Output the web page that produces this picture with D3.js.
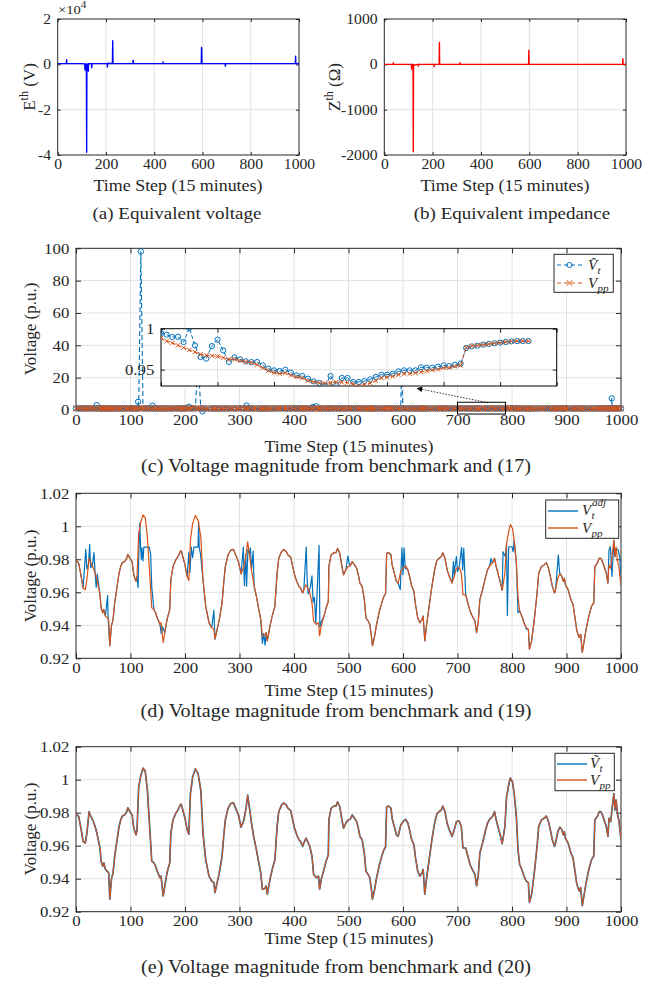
<!DOCTYPE html>
<html>
<head>
<meta charset="utf-8">
<script src="https://cdn.jsdelivr.net/npm/d3@7"></script>
<style>
  body { margin: 0; background: #fff; }
  svg { display: block; }
  text { font-family: "Liberation Serif", "Times New Roman", serif; fill: #262626; }
</style>
</head>
<body>
<script>
// ---- data ----
// (a) equivalent voltage, x10^4 V
const eThSteps  = [0, 36, 37, 38, 100, 112, 113, 114, 118, 119, 120, 121, 122, 126, 127, 128, 140, 141, 142, 200,
                   205, 206, 207, 226, 227, 228, 229, 230, 312, 313, 314, 436, 437, 438, 595, 596, 597, 598, 599, 694,
                   695, 696, 985, 986, 987, 1000];
const eThValues = [0.03, 0.03, 0.2, 0.03, 0.03, 0.02, -0.25, 0.03, -0.1, -0.4, -3.88, 0.02, -0.2, 0.03, -0.3, 0.03, 0.03, -0.15, 0.03, 0.03,
                   0.03, -0.12, 0.05, 0.03, 0.2, 1.04, 0.1, 0.03, 0.03, 0.18, 0.03, 0.03, 0.1, 0.03, 0.03, 0.75, 0.6, 0.03, 0.03, 0.03,
                   -0.08, 0.03, 0.03, 0.36, 0.03, 0.03];
// (b) equivalent impedance, ohm
const zThSteps  = [0, 36, 37, 38, 112, 113, 114, 118, 119, 120, 121, 122, 140, 141, 142, 205, 206, 207, 226, 227,
                   228, 229, 312, 313, 314, 597, 598, 599, 600, 986, 987, 988, 1000];
const zThValues = [0, 0, 30, 0, 0, -110, 0, 0, -60, -1930, 0, -20, 0, -40, 0, 0, -50, 0, 0, 20,
                   485, 0, 0, 35, 0, 0, 312, 0, 0, 0, 123, 0, 0];

// V_pp (used in c, d, e); the benchmark in (e) overlaps it
const vppSteps = [
  0, 5, 9, 13, 17, 20, 24, 27, 32, 36,
  39, 44, 46, 49, 51, 54, 57, 60, 62, 65,
  68, 71, 75, 79, 82, 85, 89, 93, 95, 99,
  103, 106, 110, 112, 115, 119, 123, 127, 131, 134,
  139, 143, 146, 149, 154, 156, 160, 163, 167, 172,
  174, 178, 183, 187, 191, 193, 196, 200, 204, 207,
  210, 214, 219, 224, 229, 233, 238, 244, 249, 253,
  255, 259, 263, 268, 271, 274, 279, 284, 289, 293,
  298, 303, 308, 312, 315, 318, 322, 326, 331, 336,
  339, 342, 346, 349, 351, 356, 360, 365, 369, 372,
  377, 381, 386, 389, 394, 397, 401, 405, 409, 412,
  416, 418, 422, 425, 429, 433, 436, 441, 445, 447,
  450, 455, 459, 463, 464, 468, 473, 477, 480, 484,
  488, 491, 495, 499, 503, 507, 511, 515, 518, 521,
  525, 529, 532, 536, 539, 542, 544, 548, 551, 556,
  561, 565, 568, 570, 574, 578, 580, 584, 588, 591,
  596, 600, 605, 609, 612, 616, 620, 623, 627, 631,
  635, 637, 640, 643, 648, 653, 658, 662, 666, 670,
  673, 677, 681, 685, 690, 694, 698, 703, 707, 710,
  715, 719, 723, 727, 732, 735, 738, 741, 746, 751,
  755, 759, 764, 768, 771, 775, 779, 782, 787, 790,
  795, 797, 801, 804, 808, 811, 814, 818, 822, 826,
  830, 832, 836, 841, 846, 849, 854, 859, 863, 867,
  871, 874, 878, 880, 884, 888, 891, 894, 896, 898,
  903, 908, 912, 916, 919, 923, 926, 929, 933, 936,
  941, 946, 950, 952, 957, 960, 963, 966, 969, 973,
  976, 978, 981, 984, 987, 989, 991, 994, 996, 1000];
const vppValues = [
  0.9796, 0.9776, 0.9706, 0.9626, 0.9616, 0.9676, 0.9806, 0.978, 0.9746, 0.9706,
  0.9666, 0.9586, 0.9506, 0.9476, 0.9496, 0.9456, 0.9446, 0.9436, 0.9276, 0.9396,
  0.9436, 0.9536, 0.9626, 0.9716, 0.9756, 0.978, 0.9786, 0.9806, 0.983, 0.9806,
  0.9786, 0.9706, 0.9666, 0.9696, 0.9956, 1.0026, 1.007, 1.0052, 0.9936, 0.9776,
  0.9506, 0.9496, 0.9476, 0.9446, 0.9406, 0.9416, 0.9296, 0.9356, 0.9436, 0.9496,
  0.9676, 0.9756, 0.9796, 0.9816, 0.9846, 0.9852, 0.9816, 0.9766, 0.9696, 0.967,
  0.9916, 1.0016, 1.0066, 1.0036, 0.9936, 0.9676, 0.9516, 0.9416, 0.9386, 0.9376,
  0.9316, 0.9376, 0.9436, 0.9536, 0.9656, 0.9756, 0.9826, 0.9856, 0.986, 0.9826,
  0.9786, 0.9712, 0.9756, 0.9826, 0.9906, 0.9836, 0.9736, 0.9656, 0.9576, 0.9486,
  0.9436, 0.9336, 0.934, 0.9356, 0.9306, 0.9396, 0.9456, 0.9516, 0.9716, 0.9806,
  0.9846, 0.986, 0.9846, 0.9826, 0.9812, 0.9766, 0.9706, 0.9666, 0.9636, 0.9626,
  0.9596, 0.9616, 0.9646, 0.9626, 0.9596, 0.9536, 0.9426, 0.9406, 0.9416, 0.9336,
  0.9396, 0.9456, 0.9506, 0.9546, 0.9756, 0.9826, 0.984, 0.984, 0.9866, 0.9836,
  0.9756, 0.9706, 0.9736, 0.9756, 0.976, 0.9786, 0.9766, 0.9746, 0.9706, 0.9656,
  0.9636, 0.9556, 0.9446, 0.9426, 0.9406, 0.9336, 0.9276, 0.9336, 0.9396, 0.9476,
  0.9536, 0.9576, 0.9592, 0.9836, 0.984, 0.9826, 0.9766, 0.9716, 0.9666, 0.9656,
  0.9726, 0.9746, 0.976, 0.9736, 0.9696, 0.9636, 0.9606, 0.9526, 0.9446, 0.9416,
  0.9436, 0.9456, 0.9306, 0.9396, 0.9516, 0.9636, 0.9736, 0.9792, 0.9806, 0.9816,
  0.984, 0.9806, 0.9736, 0.9696, 0.9656, 0.9696, 0.9746, 0.975, 0.9716, 0.9586,
  0.9586, 0.9536, 0.9486, 0.9456, 0.9426, 0.9356, 0.9416, 0.9556, 0.9616, 0.9686,
  0.9736, 0.976, 0.9776, 0.9806, 0.9756, 0.9706, 0.9656, 0.9612, 0.9716, 0.9896,
  0.9986, 1.001, 0.9986, 0.9916, 0.9776, 0.9576, 0.9486, 0.9456, 0.9416, 0.9386,
  0.9376, 0.9256, 0.9306, 0.9436, 0.9596, 0.9716, 0.9756, 0.9766, 0.978, 0.9746,
  0.9686, 0.9636, 0.9596, 0.9616, 0.9686, 0.9712, 0.97, 0.9666, 0.9686, 0.9646,
  0.9616, 0.9556, 0.9526, 0.9436, 0.9366, 0.9326, 0.9346, 0.9236, 0.9316, 0.9376,
  0.9456, 0.9516, 0.9536, 0.9756, 0.978, 0.9806, 0.9806, 0.9786, 0.9756, 0.9716,
  0.9656, 0.9766, 0.9746, 0.9836, 0.9916, 0.9816, 0.9876, 0.978, 0.9756, 0.964];

// (c) where the estimate V^_t leaves V_pp
const hatSpikeSteps  = [38, 114, 119, 140.5, 207, 224, 232, 313, 435, 441, 597, 983];
const hatSpikeValues = [3.0, 5.1, 98, 2.7, 2.0, 30, -0.8, 2.7, 1.9, 2.3, 25, 7.2];

// (d) where V_t^adj leaves V_pp
const adjSteps = [
  18, 20, 23, 25, 27, 30, 33, 35, 37, 39,
  58, 59, 114, 115.5, 117, 118.5, 120, 121, 123, 124.5,
  127.5, 131, 134.5, 137, 139, 156.5, 159, 207, 209, 211.5,
  214, 216.5, 220, 224, 225, 226, 228.5, 253, 307, 309,
  311.5, 313, 315.5, 320, 325, 327, 342, 344.5, 347, 422.5,
  424, 426, 430, 433, 435, 437.5, 440, 446, 447.5, 450,
  499, 501, 595, 598, 600, 602, 604, 692.5, 695.5, 698,
  700, 707.5, 709.5, 711.5, 715, 761.5, 783.5, 788, 791.5, 794,
  797, 800, 802, 811, 826.5, 885, 887.5, 978, 980.5, 983.5,
  987, 991.5, 995, 998];
const adjValues = [
  0.986, 0.974, 0.977, 0.989, 0.975, 0.976, 0.984, 0.972, 0.963, 0.971,
  0.958, 0.944, 0.963, 0.987, 1.002, 0.987, 0.980, 0.987, 0.979, 0.9874,
  0.9874, 0.9874, 0.9874, 0.983, 0.963, 0.935, 0.939, 0.984, 0.972, 0.9874,
  0.981, 0.9874, 0.9874, 0.9874, 1.003, 0.9874, 0.983, 0.949, 0.9874, 0.964,
  0.983, 0.9637, 0.986, 0.987, 0.985, 0.963, 0.929, 0.935, 0.928, 0.9874,
  0.969, 0.959, 0.963, 0.970, 0.954, 0.957, 0.941, 0.9884, 0.939, 0.942,
  0.982, 0.978, 0.9616, 0.987, 0.9706, 0.987, 0.9746, 0.9786, 0.9756, 0.9816,
  0.9726, 0.9872, 0.9736, 0.9866, 0.9586, 0.9806, 0.9846, 0.9816, 0.946, 0.9876,
  0.9876, 0.9876, 0.9846, 0.9476, 0.9376, 0.9826, 0.9716, 0.9856, 0.9876, 0.9696,
  0.9916, 0.9866, 0.9856, 0.9806];

// (c) inset, one sample per step
const insetSteps = d3.range(700, 766);
const insetHat = [
  0.9947, 0.9927, 0.9898, 0.9902, 0.9837, 1.0008, 0.9797, 0.9654, 0.9634, 0.9788,
  0.9866, 0.9735, 0.9593, 0.965, 0.9626, 0.9601, 0.9593, 0.9593, 0.9552, 0.9512,
  0.9491, 0.9483, 0.9499, 0.9463, 0.943, 0.9422, 0.939, 0.9357, 0.9337, 0.9308,
  0.9422, 0.9308, 0.9398, 0.9398, 0.9349, 0.9349, 0.9361, 0.9381, 0.941, 0.9438,
  0.9438, 0.945, 0.9479, 0.9491, 0.9491, 0.9491, 0.9528, 0.9524, 0.9524, 0.9536,
  0.9552, 0.9544, 0.956, 0.9573, 0.9764, 0.9784, 0.9792, 0.9805, 0.9813, 0.9821,
  0.9829, 0.9837, 0.9845, 0.9849, 0.9849, 0.9849];
const insetPp = [
  0.9886, 0.9849, 0.9825, 0.9797, 0.9768, 0.974, 0.9715, 0.9687, 0.9674, 0.967,
  0.9662, 0.9646, 0.9626, 0.9626, 0.9609, 0.9593, 0.9585, 0.956, 0.952, 0.9487,
  0.9463, 0.945, 0.9459, 0.943, 0.941, 0.9398, 0.9365, 0.9349, 0.9337, 0.9333,
  0.9341, 0.9349, 0.9345, 0.9341, 0.9324, 0.930, 0.932, 0.9337, 0.9365, 0.9398,
  0.9406, 0.9418, 0.9438, 0.945, 0.945, 0.9459, 0.9471, 0.9483, 0.9495, 0.9503,
  0.952, 0.9524, 0.954, 0.9552, 0.9772, 0.9788, 0.9797, 0.9805, 0.9813, 0.9821,
  0.9829, 0.9837, 0.9845, 0.9849, 0.9849, 0.9849];

// zoom box and pointer in (c), data units of the main axes
const zoomBox = [700, 788, -2.5, 4.8];
const pointerFrom = [756, 4.5], pointerTo = [626, 13.4];

const stepTicks = [0, 100, 200, 300, 400, 500, 600, 700, 800, 900, 1000];
const stepTicksAB = [0, 200, 400, 600, 800, 1000];
const voltTicks = [0.92, 0.94, 0.96, 0.98, 1, 1.02];

// ---- drawing ----
const BLUE = "#0072BD", ORANGE = "#D95319", GRID = "#e2e2e2", INK = "#262626";
const STRETCH = 1.12;

const svg = d3.select("body").append("svg").attr("width", 667).attr("height", 984);
svg.append("defs").append("marker")
    .attr("id", "arrowhead").attr("viewBox", "0 0 10 10")
    .attr("refX", 9).attr("refY", 5)
    .attr("markerWidth", 9).attr("markerHeight", 7).attr("orient", "auto")
    .append("path").attr("d", "M0,0L10,5L0,10z").attr("fill", "#000");

function zip(steps, values) {
    return steps.map((t, i) => [t, values[i]]);
}

function withOverrides(steps, values, oSteps, oValues, gap) {
    const pts = zip(steps, values).filter(p => !oSteps.some(s => Math.abs(s - p[0]) < gap));
    return pts.concat(zip(oSteps, oValues)).sort((a, b) => a[0] - b[0]);
}

function addText(x, y, size, anchor) {
    return svg.append("text")
            .attr("transform", `translate(${x},${y}) scale(${STRETCH},1)`)
            .attr("text-anchor", anchor || "middle")
            .attr("font-size", size);
}

function addVText(x, y, size) {
    return svg.append("text")
            .attr("transform", `translate(${x},${y}) rotate(-90)`)
            .attr("text-anchor", "middle")
            .attr("font-size", size);
}

function frame(box, xDomain, yDomain, xTicks, yTicks, opts) {
    const x = d3.scaleLinear().domain(xDomain).range([box.l, box.r]);
    const y = d3.scaleLinear().domain(yDomain).range([box.b, box.t]);
    const g = svg.append("g");
    if (opts.bg) {
        g.append("rect").attr("x", box.l).attr("y", box.t)
                .attr("width", box.r - box.l).attr("height", box.b - box.t).attr("fill", "#fff");
    }
    g.append("g").selectAll("line")
            .data(xTicks.filter(d => d > xDomain[0] && d < xDomain[1]))
            .join("line")
            .attr("x1", d => x(d)).attr("x2", d => x(d))
            .attr("y1", box.t).attr("y2", box.b)
            .attr("stroke", GRID);
    g.append("g").selectAll("line")
            .data(yTicks.filter(d => d > yDomain[0] && d < yDomain[1]))
            .join("line")
            .attr("x1", box.l).attr("x2", box.r)
            .attr("y1", d => y(d)).attr("y2", d => y(d))
            .attr("stroke", GRID);

    const tick = opts.tick;
    const fs = opts.fontSize;
    const bottom = g.append("g").attr("transform", `translate(0,${box.b})`)
            .call(d3.axisBottom(x).tickValues(xTicks).tickSize(-tick).tickSizeOuter(0).tickPadding(4)
                    .tickFormat(opts.noXLabels ? "" : d => String(d)));
    const top = g.append("g").attr("transform", `translate(0,${box.t})`)
            .call(d3.axisTop(x).tickValues(xTicks).tickSize(-tick).tickSizeOuter(0).tickFormat(""));
    const left = g.append("g").attr("transform", `translate(${box.l},0)`)
            .call(d3.axisLeft(y).tickValues(yTicks).tickSize(-tick).tickSizeOuter(0).tickPadding(6)
                    .tickFormat(opts.yFormat || (d => String(d))));
    const right = g.append("g").attr("transform", `translate(${box.r},0)`)
            .call(d3.axisRight(y).tickValues(yTicks).tickSize(-tick).tickSizeOuter(0).tickFormat(""));
    [bottom, top, left, right].forEach(a => {
        a.attr("font-family", null).attr("font-size", fs);
        a.select(".domain").remove();
        a.selectAll(".tick line").attr("stroke", INK);
        a.selectAll(".tick text").attr("fill", INK).attr("transform", `scale(${STRETCH},1)`);
    });
    g.append("rect").attr("x", box.l).attr("y", box.t)
            .attr("width", box.r - box.l).attr("height", box.b - box.t)
            .attr("fill", "none").attr("stroke", opts.border || INK).attr("stroke-width", 1);

    const clipId = "clip" + Math.round(box.l) + "_" + Math.round(box.t);
    svg.select("defs").append("clipPath").attr("id", clipId)
            .append("rect").attr("x", box.l).attr("y", box.t)
            .attr("width", box.r - box.l).attr("height", box.b - box.t);
    const plot = g.append("g");
    const clipped = g.append("g").attr("clip-path", `url(#${clipId})`);
    return {x, y, g, plot, clipped};
}

function drawLine(layer, ax, pts, color, width, dash) {
    layer.append("path")
            .datum(pts)
            .attr("fill", "none")
            .attr("stroke", color)
            .attr("stroke-width", width)
            .attr("stroke-dasharray", dash || null)
            .attr("stroke-linejoin", "round")
            .attr("d", d3.line().x(d => ax.x(d[0])).y(d => ax.y(d[1])));
}

function drawCircles(layer, ax, pts, r) {
    layer.append("g").selectAll("circle").data(pts).join("circle")
            .attr("cx", d => ax.x(d[0])).attr("cy", d => ax.y(d[1])).attr("r", r)
            .attr("fill", "none").attr("stroke", BLUE).attr("stroke-width", 1);
}

function crossPath(s) {
    return `M${-s},${-s}L${s},${s}M${-s},${s}L${s},${-s}`;
}

function drawCrosses(layer, ax, pts, s) {
    layer.append("g").selectAll("path").data(pts).join("path")
            .attr("transform", d => `translate(${ax.x(d[0])},${ax.y(d[1])})`)
            .attr("d", crossPath(s))
            .attr("stroke", ORANGE).attr("stroke-width", 1).attr("fill", "none");
}

function legendBox(x0, y0, x1, y1) {
    svg.append("rect").attr("x", x0).attr("y", y0).attr("width", x1 - x0).attr("height", y1 - y0)
            .attr("fill", "#fff").attr("stroke", INK).attr("stroke-width", 1);
}

function legendLine(x0, x1, y, color, width, dash) {
    svg.append("line").attr("x1", x0).attr("x2", x1).attr("y1", y).attr("y2", y)
            .attr("stroke", color).attr("stroke-width", width).attr("stroke-dasharray", dash || null);
}

// italic symbol with its sub- and superscript as separate pieces
function symbol(x, y, base, sub, sup) {
    svg.append("text").attr("x", x).attr("y", y)
            .attr("font-size", 15).attr("font-style", "italic").text(base);
    svg.append("text").attr("x", x + 9.5).attr("y", y + 3.5)
            .attr("font-size", 11).attr("font-style", "italic").text(sub);
    if (sup) {
        svg.append("text").attr("x", x + 10).attr("y", y - 9)
                .attr("font-size", 11).attr("font-style", "italic").text(sup);
    }
}

// ---------- (a) ----------
const boxA = {l: 57.7, r: 299, t: 19, b: 155};
const axA = frame(boxA, [0, 1000], [-4, 2], stepTicksAB, [-4, -2, 0, 2], {tick: 3, fontSize: 14});
drawLine(axA.clipped, axA, zip(eThSteps, eThValues), "#0000ff", 1.4);
const mult = addText(58, 14, 13, "start");
mult.append("tspan").text("\u00d710");
mult.append("tspan").attr("dy", -6).attr("font-size", 10).text("4");
const labA = addVText(35, 87, 17);
labA.append("tspan").text("E");
labA.append("tspan").attr("dy", -7).attr("font-size", 12).text("th");
labA.append("tspan").attr("dy", 7).text(" (V)");
addText(178, 191, 16).text("Time Step (15 minutes)");
addText(177, 219, 17).text("(a) Equivalent voltage");

// ---------- (b) ----------
const boxB = {l: 384.3, r: 626, t: 19, b: 155};
const axB = frame(boxB, [0, 1000], [-2000, 1000], stepTicksAB, [-2000, -1000, 0, 1000], {tick: 3, fontSize: 14});
drawLine(axB.clipped, axB, zip(zThSteps, zThValues), "#ff0000", 1.4);
const labB = addVText(340, 87, 17);
labB.append("tspan").text("Z");
labB.append("tspan").attr("dy", -7).attr("font-size", 12).text("th");
labB.append("tspan").attr("dy", 7).text(" (\u03a9)");
addText(505, 191, 16).text("Time Step (15 minutes)");
addText(512, 219, 17).text("(b) Equivalent impedance");

// ---------- (c) ----------
const boxC = {l: 76, r: 621, t: 248.3, b: 410};
const axC = frame(boxC, [0, 1000], [0, 100], stepTicks, [0, 20, 40, 60, 80, 100], {tick: 5, fontSize: 15});
const hatPts = withOverrides(vppSteps, vppValues, hatSpikeSteps, hatSpikeValues, 1);
const ppPts = zip(vppSteps, vppValues);
drawLine(axC.plot, axC, hatPts, BLUE, 1.1, "5,3");
drawCircles(axC.plot, axC, hatPts, 2.7);
drawLine(axC.plot, axC, ppPts, ORANGE, 1.1, "5,3");
drawCrosses(axC.plot, axC, ppPts, 3);
// zoom box and pointer
axC.plot.append("rect")
        .attr("x", axC.x(zoomBox[0])).attr("y", axC.y(zoomBox[3]))
        .attr("width", axC.x(zoomBox[1]) - axC.x(zoomBox[0]))
        .attr("height", axC.y(zoomBox[2]) - axC.y(zoomBox[3]))
        .attr("fill", "none").attr("stroke", "#000").attr("stroke-width", 1);
axC.plot.append("line")
        .attr("x1", axC.x(pointerFrom[0])).attr("y1", axC.y(pointerFrom[1]))
        .attr("x2", axC.x(pointerTo[0])).attr("y2", axC.y(pointerTo[1]))
        .attr("stroke", "#000").attr("stroke-width", 0.8).attr("stroke-dasharray", "1.5,1.5")
        .attr("marker-end", "url(#arrowhead)");
addVText(36, 329, 17).text("Voltage (p.u.)");
addText(349, 452, 16).text("Time Step (15 minutes)");
addText(336, 472, 18).text("(c) Voltage magnitude from benchmark and (17)");

// inset
const boxI = {l: 161, r: 556.7, t: 328.7, b: 386};
const axI = frame(boxI, [700, 770], [0.93, 1.0], [700, 710, 720, 730, 740, 750, 760, 770], [0.95, 1],
        {tick: 4, fontSize: 15, noXLabels: true, bg: true, border: "#000"});
const insetHatPts = zip(insetSteps, insetHat);
const insetPpPts = zip(insetSteps, insetPp);
drawLine(axI.clipped, axI, insetHatPts, BLUE, 1, "4,2");
drawCircles(axI.clipped, axI, insetHatPts, 2.6);
drawLine(axI.clipped, axI, insetPpPts, ORANGE, 1, "4,2");
drawCrosses(axI.clipped, axI, insetPpPts, 2.2);

// legend (c)
legendBox(554, 254.3, 613.3, 292.3);
legendLine(557, 582, 265, BLUE, 1.1, "4,3");
drawCircles(svg, {x: d => d, y: d => d}, [[569.5, 265]], 2.6);
legendLine(557, 582, 283, ORANGE, 1.1, "4,3");
svg.append("path").attr("transform", "translate(569.5,283)").attr("d", crossPath(2.8))
        .attr("stroke", ORANGE).attr("fill", "none");
symbol(588, 270, "V\u0302", "t");
symbol(588, 288, "V", "pp");

// ---------- (d) ----------
const boxD = {l: 76, r: 621, t: 493.3, b: 658.3};
const fmtV = d => String(+d.toFixed(2));
const axD = frame(boxD, [0, 1000], [0.92, 1.02], stepTicks, voltTicks, {tick: 5, fontSize: 15, yFormat: fmtV});
const adjPts = withOverrides(vppSteps, vppValues, adjSteps, adjValues, 1.5);
drawLine(axD.clipped, axD, adjPts, BLUE, 1.2);
drawLine(axD.clipped, axD, ppPts, ORANGE, 1.2);
legendBox(545.7, 500, 618.7, 538.3);
legendLine(548, 578, 511, BLUE, 1.4);
legendLine(548, 578, 528, ORANGE, 1.4);
symbol(582, 515, "V", "t", "adj");
symbol(582, 533, "V", "pp");
addVText(36, 576, 17).text("Voltage (p.u.)");
addText(349, 696, 16).text("Time Step (15 minutes)");
addText(336, 717, 18).text("(d) Voltage magnitude from benchmark and (19)");

// ---------- (e) ----------
const boxE = {l: 76, r: 621, t: 746.7, b: 911.7};
const axE = frame(boxE, [0, 1000], [0.92, 1.02], stepTicks, voltTicks, {tick: 5, fontSize: 15, yFormat: fmtV});
drawLine(axE.clipped, axE, ppPts, BLUE, 1.7);
drawLine(axE.clipped, axE, ppPts, ORANGE, 1.1);
legendBox(555, 753.3, 614.3, 790.7);
legendLine(557, 587, 764, BLUE, 1.4);
legendLine(557, 587, 780, ORANGE, 1.4);
symbol(590, 768, "V\u0303", "t");
symbol(590, 785, "V", "pp");
addVText(36, 829, 17).text("Voltage (p.u.)");
addText(349, 944, 16).text("Time Step (15 minutes)");
addText(336, 973, 18).text("(e) Voltage magnitude from benchmark and (20)");
</script>
</body>
</html>
